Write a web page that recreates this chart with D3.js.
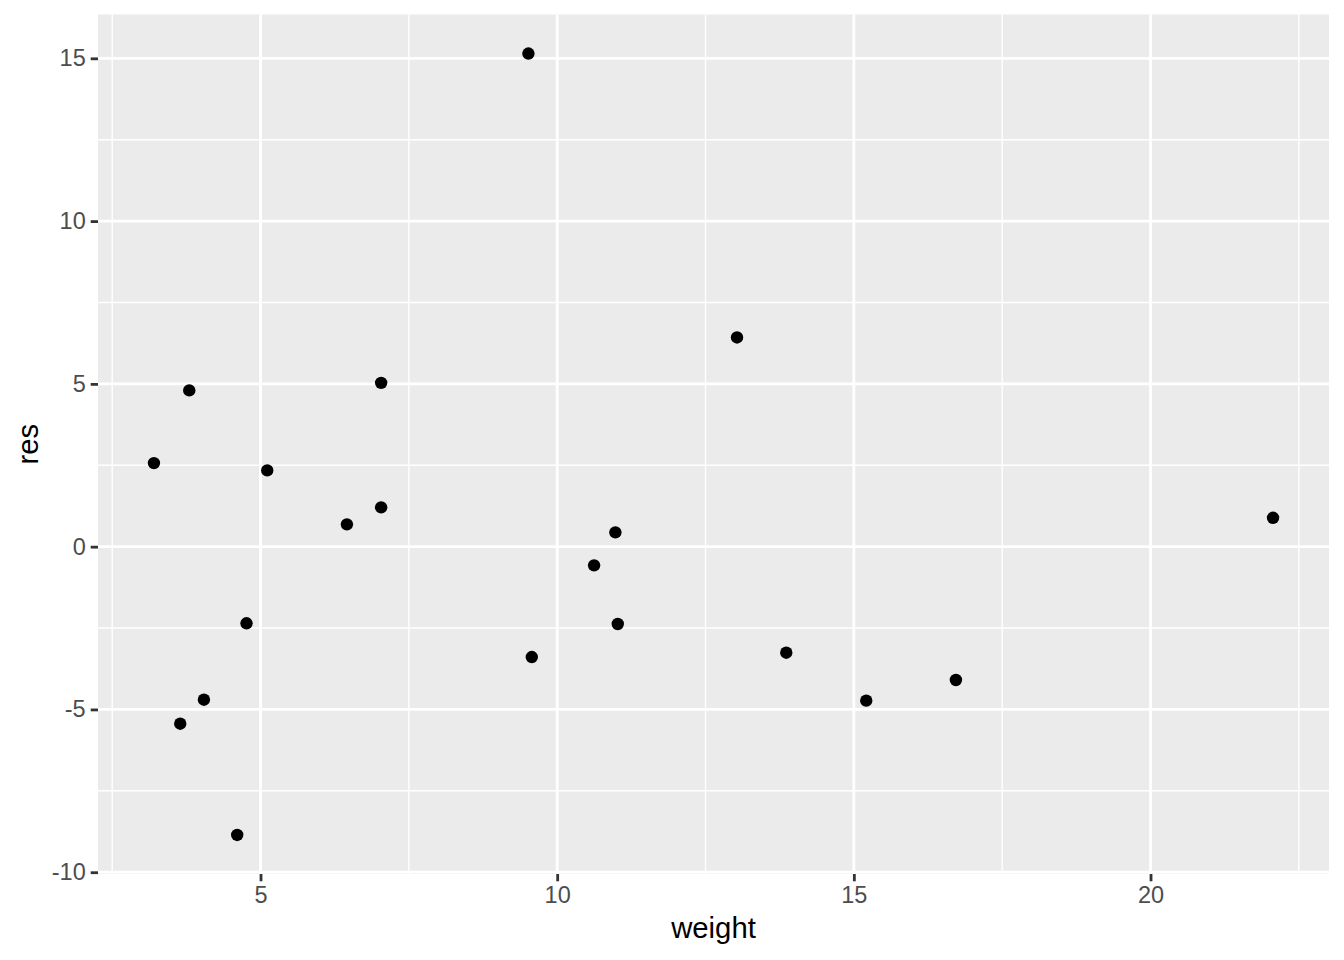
<!DOCTYPE html>
<html>
<head>
<meta charset="utf-8">
<script src="https://cdn.jsdelivr.net/npm/d3@7"></script>
<style>
  body { margin: 0; background: #fff; }
  text { font-family: "Liberation Sans", Arial, Helvetica, sans-serif; }
</style>
</head>
<body>
<div id="chart"></div>
<script>
// residuals against weight
var weight = [3.204, 3.799, 3.647, 4.046, 4.607, 4.764, 5.113, 6.456, 7.033, 7.033,
              9.515, 9.572, 10.622, 10.981, 11.021, 13.031, 13.861, 15.209, 16.720, 22.065];
var res = [2.567, 4.799, -5.438, -4.701, -8.855, -2.355, 2.343, 0.685, 5.032, 1.207,
           15.146, -3.390, -0.574, 0.439, -2.376, 6.426, -3.258, -4.731, -4.096, 0.887];
var xTicks = [5, 10, 15, 20];
var xMinor = [2.5, 7.5, 12.5, 17.5, 22.5];
var yTicks = [-10, -5, 0, 5, 10, 15];
var yMinor = [-7.5, -2.5, 2.5, 7.5, 12.5];

var W = 1344, H = 960;
var margin = {top: 14.5, right: 15, bottom: 86, left: 98};
var width = W - margin.left - margin.right,
    height = H - margin.top - margin.bottom;

var points = weight.map(function (w, i) { return {x: w, y: res[i]}; });

// ggplot style 5% expansion
function expand(ext) {
    var d = (ext[1] - ext[0]) * 0.05;
    return [ext[0] - d, ext[1] + d];
}

var x = d3.scaleLinear().domain(expand(d3.extent(weight))).range([0, width]);
var y = d3.scaleLinear().domain(expand(d3.extent(res))).range([height, 0]);

var svg = d3.select('#chart').append('svg')
    .attr('width', W)
    .attr('height', H);

var g = svg.append('g')
    .attr('transform', 'translate(' + margin.left + ',' + margin.top + ')');

g.append('rect')
    .attr('width', width)
    .attr('height', height)
    .attr('fill', '#EBEBEB');

// minor grid
g.selectAll('.xminor').data(xMinor).enter().append('line')
    .attr('x1', function (d) { return x(d); })
    .attr('x2', function (d) { return x(d); })
    .attr('y1', 0).attr('y2', height)
    .attr('stroke', '#fff').attr('stroke-width', 1.4);
g.selectAll('.yminor').data(yMinor).enter().append('line')
    .attr('y1', function (d) { return y(d); })
    .attr('y2', function (d) { return y(d); })
    .attr('x1', 0).attr('x2', width)
    .attr('stroke', '#fff').attr('stroke-width', 1.4);

// major grid
g.selectAll('.xmajor').data(xTicks).enter().append('line')
    .attr('x1', function (d) { return x(d); })
    .attr('x2', function (d) { return x(d); })
    .attr('y1', 0).attr('y2', height)
    .attr('stroke', '#fff').attr('stroke-width', 2.8);
g.selectAll('.ymajor').data(yTicks).enter().append('line')
    .attr('y1', function (d) { return y(d); })
    .attr('y2', function (d) { return y(d); })
    .attr('x1', 0).attr('x2', width)
    .attr('stroke', '#fff').attr('stroke-width', 2.8);

// axes (plain hyphen for negatives, as R prints them)
var fmt = function (d) { return String(d); };
var xAxis = g.append('g')
    .attr('transform', 'translate(0,' + height + ')')
    .call(d3.axisBottom(x).tickValues(xTicks).tickFormat(fmt).tickSize(7.3).tickPadding(5));
var yAxis = g.append('g')
    .call(d3.axisLeft(y).tickValues(yTicks).tickFormat(fmt).tickSize(7.3).tickPadding(5));

[xAxis, yAxis].forEach(function (ax) {
    ax.select('.domain').remove();
    ax.selectAll('line').attr('stroke', '#333333').attr('stroke-width', 2.8);
    ax.selectAll('text')
        .attr('fill', '#4D4D4D')
        .attr('font-size', 23.5)
        .style('font-family', '"Liberation Sans", Arial, sans-serif');
});

// points
g.selectAll('circle')
    .data(points)
    .enter()
    .append('circle')
    .attr('cx', function (d) { return x(d.x); })
    .attr('cy', function (d) { return y(d.y); })
    .attr('r', 6.2)
    .attr('fill', '#000');

// axis titles
svg.append('text')
    .attr('x', margin.left + width / 2)
    .attr('y', 938)
    .attr('text-anchor', 'middle')
    .attr('font-size', 29.3)
    .attr('fill', '#000')
    .text('weight');

svg.append('text')
    .attr('transform', 'translate(38,' + (margin.top + height / 2) + ') rotate(-90)')
    .attr('text-anchor', 'middle')
    .attr('font-size', 29.3)
    .attr('fill', '#000')
    .text('res');
</script>
</body>
</html>
